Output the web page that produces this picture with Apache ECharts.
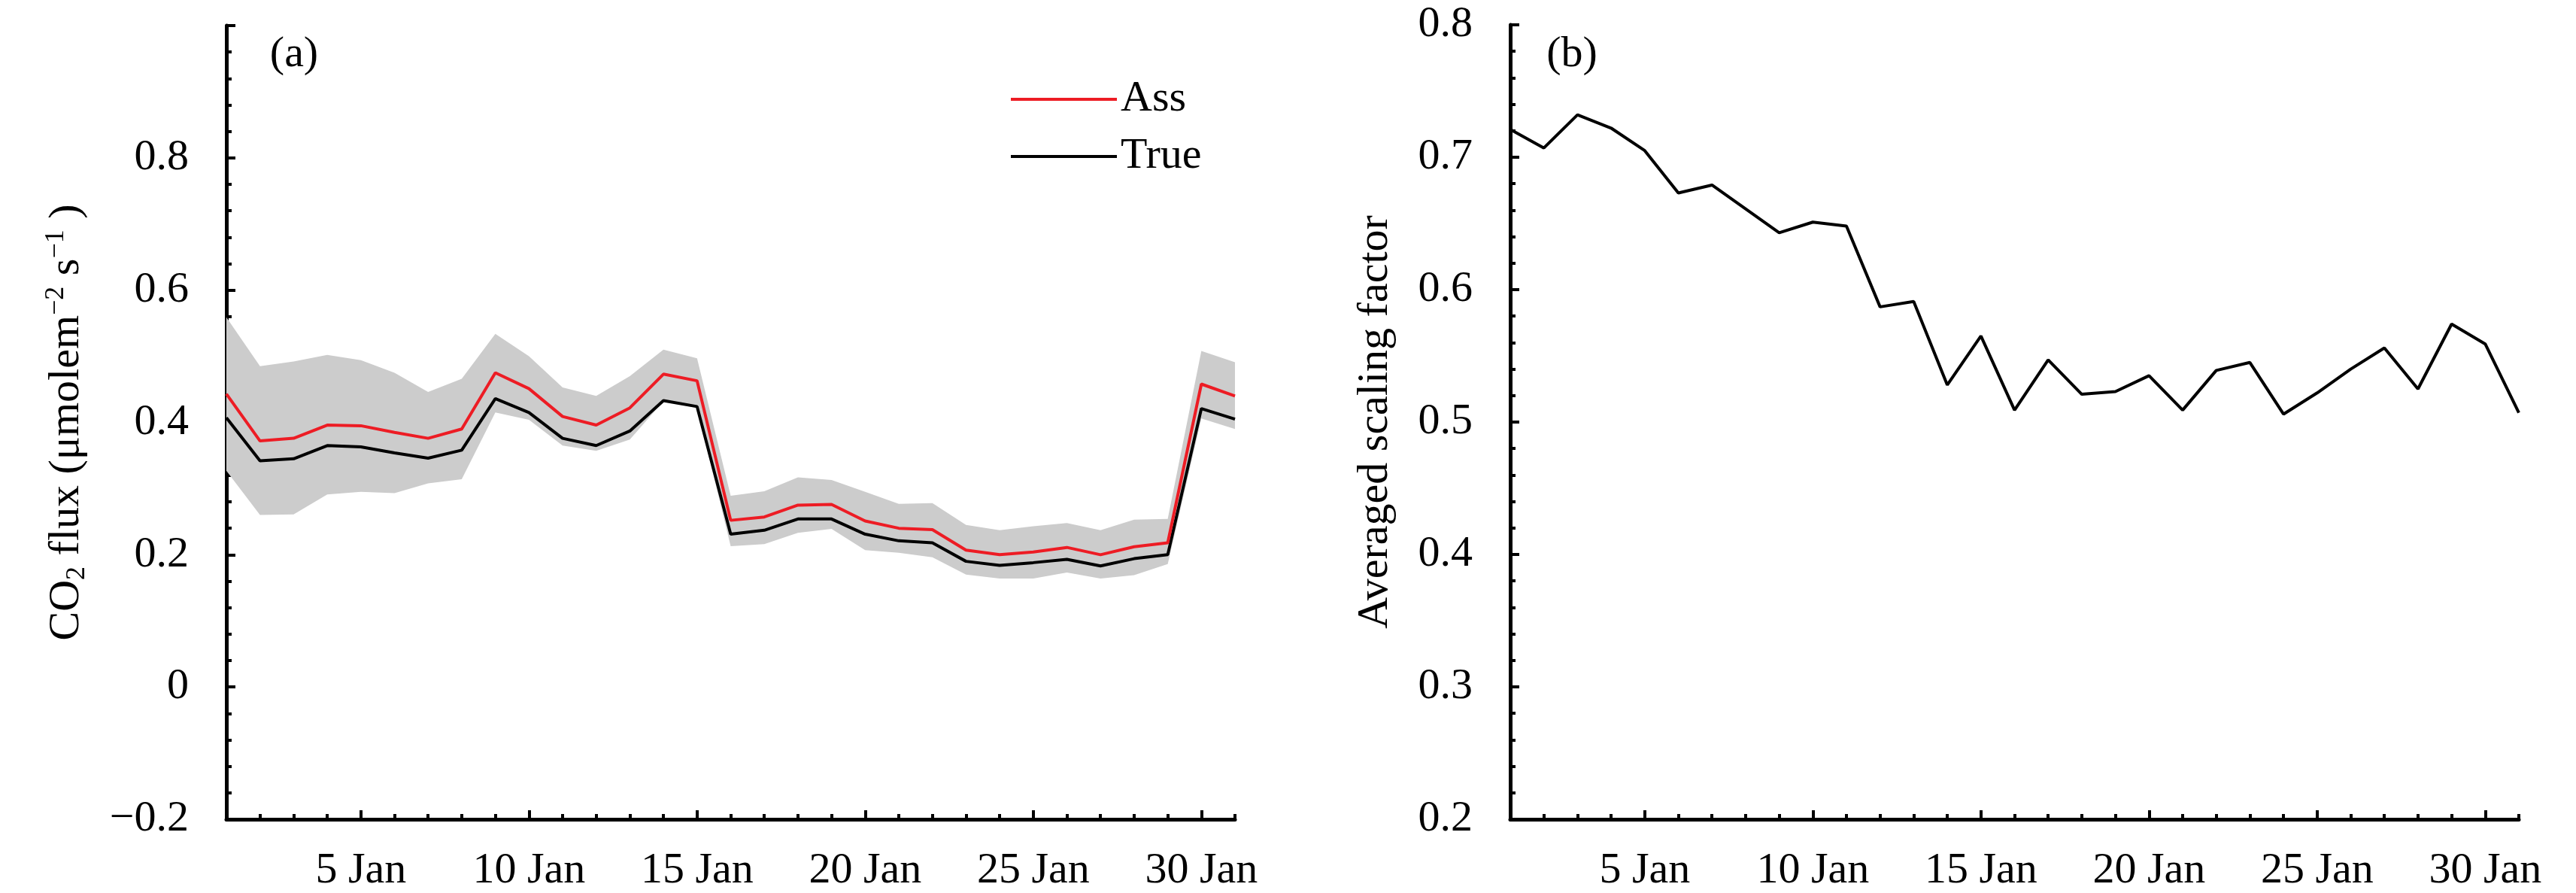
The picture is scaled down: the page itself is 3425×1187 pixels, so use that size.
<!DOCTYPE html>
<html><head><meta charset="utf-8">
<script src="https://cdn.jsdelivr.net/npm/echarts@6/dist/echarts.min.js"></script>
<style>html,body{margin:0;padding:0;background:#fff}#c{width:3425px;height:1187px}</style>
</head><body><div id="c"></div>
<script>
const days = ['1','2','3','4','5','6','7','8','9','10','11','12','13','14','15','16','17','18','19','20','21','22','23','24','25','26','27','28','29','30','31'];
const assFlux = [0.443,0.372,0.376,0.396,0.395,0.385,0.376,0.390,0.475,0.451,0.409,0.396,0.422,0.473,0.463,0.252,0.257,0.275,0.276,0.251,0.240,0.238,0.207,0.200,0.204,0.211,0.200,0.212,0.218,0.458,0.440];
const trueFlux = [0.407,0.342,0.345,0.365,0.363,0.354,0.346,0.358,0.436,0.415,0.376,0.365,0.387,0.433,0.424,0.231,0.237,0.254,0.254,0.231,0.221,0.218,0.190,0.184,0.188,0.193,0.183,0.194,0.200,0.421,0.405];
const bandUpper = [0.559,0.485,0.492,0.502,0.494,0.475,0.446,0.466,0.534,0.500,0.453,0.440,0.470,0.510,0.497,0.289,0.296,0.317,0.313,0.295,0.277,0.278,0.245,0.237,0.243,0.248,0.237,0.253,0.254,0.508,0.491];
const bandLower = [0.327,0.260,0.261,0.291,0.295,0.293,0.308,0.314,0.415,0.404,0.365,0.357,0.374,0.432,0.422,0.213,0.216,0.233,0.239,0.207,0.203,0.196,0.170,0.164,0.164,0.173,0.164,0.169,0.186,0.406,0.390];
const scalingFactor = [0.721,0.707,0.732,0.722,0.705,0.673,0.679,0.661,0.643,0.651,0.648,0.587,0.591,0.528,0.565,0.509,0.547,0.521,0.523,0.535,0.509,0.539,0.545,0.506,0.522,0.540,0.556,0.525,0.574,0.559,0.507];

const FONT = 'Liberation Serif';
const FS = 58;
const majorDay = (i) => (i + 1) % 5 === 0;

function xAxesFor(g) {
  return [
    {type:'category', gridIndex:g, data:days, boundaryGap:false, position:'bottom',
     axisLine:{show:true, onZero:false, lineStyle:{color:'#000', width:5}},
     axisTick:{show:true, inside:true, length:12, interval:majorDay, lineStyle:{width:4, color:'#000'}},
     axisLabel:{interval:majorDay, formatter:(v)=>v + ' Jan', fontFamily:FONT, fontSize:FS, color:'#000', margin:40},
     splitLine:{show:false}},
    {type:'category', gridIndex:g, data:days, boundaryGap:false, position:'bottom',
     axisLine:{show:false, onZero:false},
     axisTick:{show:true, inside:true, length:7, interval:0, lineStyle:{width:4, color:'#000'}},
     axisLabel:{show:false}, splitLine:{show:false}}
  ];
}

function fmtA(v) {
  const r = Math.round(v * 10) / 10;
  if (r > 0.9) return '';
  if (r === 0) return '0';
  if (r < 0) return '\u2212' + Math.abs(r).toFixed(1);
  return r.toFixed(1);
}

const yCommon = {
  type:'value',
  axisLine:{show:true, onZero:false, lineStyle:{color:'#000', width:5}},
  axisTick:{show:true, inside:true, length:12, lineStyle:{width:4, color:'#000'}},
  minorTick:{show:true, splitNumber:5, length:7, lineStyle:{width:4, color:'#000'}},
  splitLine:{show:false}, minorSplitLine:{show:false},
  nameLocation:'middle', nameRotate:90
};

const option = {
  animation:false,
  backgroundColor:'#fff',
  grid:[
    {left:301, right:1783, top:34, bottom:93},
    {left:2008, right:76, top:33, bottom:93}
  ],
  xAxis:[...xAxesFor(0), ...xAxesFor(1)],
  yAxis:[
    Object.assign({}, yCommon, {
      gridIndex:0, min:-0.2, max:1.0, interval:0.2,
      axisLabel:{formatter:fmtA, fontFamily:FONT, fontSize:FS, color:'#000', margin:50},
      name:'{n|CO}{sub|2}{n| flux (\u03bcmolem}{sup|\u22122}{n| s}{sup|\u22121}{n| )}',
      nameGap:180,
      nameTextStyle:{fontFamily:FONT, fontSize:FS, color:'#000',
        rich:{
          n:{fontFamily:FONT, fontSize:FS, color:'#000', lineHeight:64},
          sub:{fontFamily:FONT, fontSize:36, color:'#000', lineHeight:30, verticalAlign:'bottom'},
          sup:{fontFamily:FONT, fontSize:36, color:'#000', lineHeight:30, verticalAlign:'top'}
        }}
    }),
    Object.assign({}, yCommon, {
      gridIndex:1, min:0.2, max:0.8, interval:0.1,
      axisLabel:{formatter:(v)=>(Math.round(v*10)/10).toFixed(1), fontFamily:FONT, fontSize:FS, color:'#000', margin:50},
      name:'Averaged scaling factor',
      nameGap:150,
      nameTextStyle:{fontFamily:FONT, fontSize:FS, color:'#000'}
    })
  ],
  legend:{
    left:1339, top:98, orient:'vertical', itemWidth:141, itemHeight:4, itemGap:18, icon:'rect',
    data:['Ass','True'],
    textStyle:{fontFamily:FONT, fontSize:FS, color:'#000'}
  },
  graphic:[
    {type:'text', x:391, y:73, style:{text:'(a)', font:FS + 'px "Liberation Serif"', fill:'#000', textAlign:'center', textVerticalAlign:'middle', align:'center', verticalAlign:'middle'}},
    {type:'text', x:2090, y:73, style:{text:'(b)', font:FS + 'px "Liberation Serif"', fill:'#000', textAlign:'center', textVerticalAlign:'middle', align:'center', verticalAlign:'middle'}}
  ],
  series:[
    {name:'bandLower', type:'line', xAxisIndex:0, yAxisIndex:0, data:bandLower, stack:'band',
     symbol:'none', lineStyle:{opacity:0, width:0}, silent:true, z:1},
    {name:'bandWidth', type:'line', xAxisIndex:0, yAxisIndex:0,
     data:bandUpper.map((u,i)=>+(u - bandLower[i]).toFixed(4)), stack:'band',
     symbol:'none', lineStyle:{opacity:0, width:0}, areaStyle:{color:'#cccccc', opacity:1}, silent:true, z:1},
    {name:'True', type:'line', xAxisIndex:0, yAxisIndex:0, data:trueFlux, symbol:'none',
     itemStyle:{color:'#000'}, lineStyle:{color:'#000', width:4}, z:3},
    {name:'Ass', type:'line', xAxisIndex:0, yAxisIndex:0, data:assFlux, symbol:'none',
     itemStyle:{color:'#ed1c24'}, lineStyle:{color:'#ed1c24', width:4}, z:4},
    {name:'Scaling', type:'line', xAxisIndex:2, yAxisIndex:1, data:scalingFactor, symbol:'none',
     itemStyle:{color:'#000'}, lineStyle:{color:'#000', width:4}, z:3}
  ]
};
const chart = echarts.init(document.getElementById('c'));
chart.setOption(option);
</script>
</body></html>
